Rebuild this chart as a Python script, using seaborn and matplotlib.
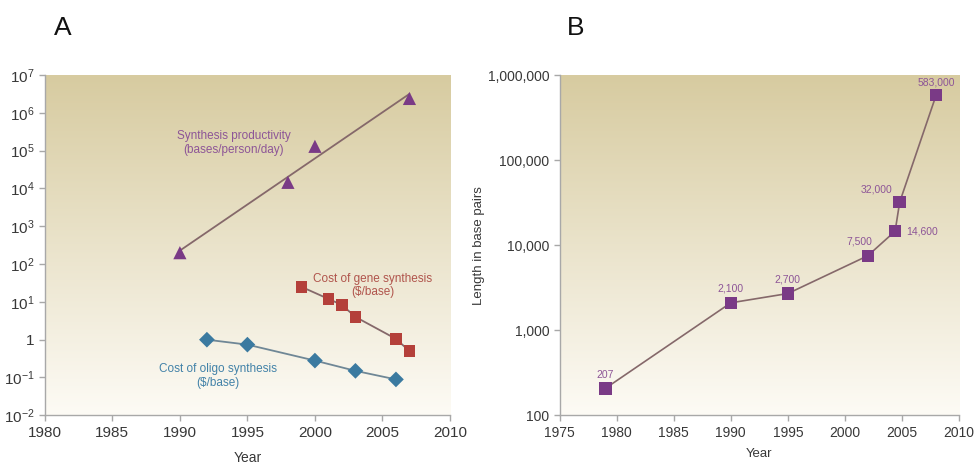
import numpy as np
import pandas as pd
import matplotlib
matplotlib.use("Agg")
import matplotlib.pyplot as plt
from matplotlib.ticker import FixedLocator, FixedFormatter, NullLocator
import seaborn as sns

# ---- Panel A data -------------------------------------------------------
prod_years = [1990, 1998, 2000, 2007]
prod_values = [200, 14500, 130000, 2400000]          # bases/person/day

gene_years = [1999, 2001, 2002, 2003, 2006, 2007]
gene_costs = [25, 12, 8.3, 4.0, 1.05, 0.5]            # $/base

oligo_years = [1992, 1995, 2000, 2003, 2006]
oligo_costs = [1.0, 0.74, 0.28, 0.15, 0.089]          # $/base

a_xticks = [1980, 1985, 1990, 1995, 2000, 2005, 2010]
a_yticks = [1e-2, 1e-1, 1, 1e1, 1e2, 1e3, 1e4, 1e5, 1e6, 1e7]
a_ylabels = ["$10^{-2}$", "$10^{-1}$", "1", "$10^{1}$", "$10^{2}$", "$10^{3}$",
             "$10^{4}$", "$10^{5}$", "$10^{6}$", "$10^{7}$"]

# ---- Panel B data -------------------------------------------------------
syn_years = [1979, 1990, 1995, 2002, 2004.4, 2004.8, 2008]
syn_lengths = [207, 2100, 2700, 7500, 14600, 32000, 583000]
syn_labels = ["207", "2,100", "2,700", "7,500", "14,600", "32,000", "583,000"]

b_xticks = [1975, 1980, 1985, 1990, 1995, 2000, 2005, 2010]
b_yticks = [100, 1000, 10000, 100000, 1000000]
b_ylabels = ["100", "1,000", "10,000", "100,000", "1,000,000"]

# ---- Style --------------------------------------------------------------
sns.set_style("ticks")
plt.rcParams["font.family"] = ["Liberation Sans", "DejaVu Sans"]
plt.rcParams["mathtext.fontset"] = "custom"
plt.rcParams["mathtext.rm"] = "Liberation Sans"
plt.rcParams["mathtext.it"] = "Liberation Sans"

AXIS_GRAY = "#a8a8a8"
TEXT_GRAY = "#383838"
PURPLE = "#7a3a86"
PURPLE_TXT = "#8d5597"
RED = "#b4403a"
RED_TXT = "#b0544c"
BLUE = "#3b7aa0"
BLUE_TXT = "#4282a8"
LINE_BROWN = "#85686a"
LINE_BLUEGRAY = "#6f8796"

fig = plt.figure(figsize=(9.75, 4.63), dpi=100)
ax_a = fig.add_axes([0.046, 0.103, 0.4155, 0.735])
ax_b = fig.add_axes([0.574, 0.103, 0.4096, 0.735])


def shade(ax):
    top = np.array([215, 203, 160]) / 255.0
    bottom = np.array([253, 251, 245]) / 255.0
    t = np.linspace(0, 1, 256)[:, None]
    grad = (top * (1 - t) + bottom * t)[:, None, :]
    ax.imshow(grad, extent=[0, 1, 0, 1], transform=ax.transAxes,
              aspect="auto", zorder=0, interpolation="bilinear")


def frame(ax, fs):
    sns.despine(ax=ax)
    for side in ("left", "bottom"):
        ax.spines[side].set_color(AXIS_GRAY)
        ax.spines[side].set_linewidth(1.0)
    ax.tick_params(axis="both", colors=AXIS_GRAY, length=4, width=1,
                   labelcolor=TEXT_GRAY, labelsize=fs, direction="out")
    ax.set_facecolor("none")


# ---- Panel A ------------------------------------------------------------
prod_df = pd.DataFrame({"Year": prod_years, "Value": prod_values})
gene_df = pd.DataFrame({"Year": gene_years, "Value": gene_costs})
oligo_df = pd.DataFrame({"Year": oligo_years, "Value": oligo_costs})

# exponential trend through productivity points
coef = np.polyfit(prod_df["Year"], np.log10(prod_df["Value"]), 1)
trend_x = np.array([prod_years[0], prod_years[-1]])
trend_df = pd.DataFrame({"Year": trend_x, "Value": 10 ** np.polyval(coef, trend_x)})

ax_a.set_yscale("log")
shade(ax_a)
sns.lineplot(data=trend_df, x="Year", y="Value", ax=ax_a, color=LINE_BROWN,
             lw=1.3, zorder=2)
sns.lineplot(data=gene_df, x="Year", y="Value", ax=ax_a, color=LINE_BROWN,
             lw=1.3, zorder=2)
sns.lineplot(data=oligo_df, x="Year", y="Value", ax=ax_a, color=LINE_BLUEGRAY,
             lw=1.3, zorder=2)
sns.scatterplot(data=prod_df, x="Year", y="Value", ax=ax_a, marker="^",
                s=90, color=PURPLE, edgecolor="none", zorder=3)
sns.scatterplot(data=gene_df, x="Year", y="Value", ax=ax_a, marker="s",
                s=72, color=RED, edgecolor="none", zorder=3)
sns.scatterplot(data=oligo_df, x="Year", y="Value", ax=ax_a, marker="D",
                s=64, color=BLUE, edgecolor="none", zorder=3)

ax_a.set_xlim(1980, 2010)
ax_a.set_ylim(1e-2, 1e7)
ax_a.xaxis.set_major_locator(FixedLocator(a_xticks))
ax_a.yaxis.set_major_locator(FixedLocator(a_yticks))
ax_a.yaxis.set_major_formatter(FixedFormatter(a_ylabels))
ax_a.yaxis.set_minor_locator(NullLocator())
frame(ax_a, 11)
ax_a.set_xlabel("Year", fontsize=10, color=TEXT_GRAY, labelpad=8)
ax_a.set_ylabel("")

ax_a.text(1994.0, 1.6e5, "Synthesis productivity\n(bases/person/day)",
          ha="center", va="center", fontsize=8.5, color=PURPLE_TXT, linespacing=1.2)
ax_a.text(2004.3, 27, "Cost of gene synthesis\n(\\$/base)",
          ha="center", va="center", fontsize=8.5, color=RED_TXT, linespacing=1.2)
ax_a.text(1992.8, 0.11, "Cost of oligo synthesis\n(\\$/base)",
          ha="center", va="center", fontsize=8.5, color=BLUE_TXT, linespacing=1.2)

# ---- Panel B ------------------------------------------------------------
syn_df = pd.DataFrame({"Year": syn_years, "Length": syn_lengths})
ax_b.set_yscale("log")
shade(ax_b)
sns.lineplot(data=syn_df, x="Year", y="Length", ax=ax_b, color=LINE_BROWN,
             lw=1.2, zorder=2, sort=False)
sns.scatterplot(data=syn_df, x="Year", y="Length", ax=ax_b, marker="s",
                s=80, color=PURPLE, edgecolor="none", zorder=3)

offsets = [(0, 10, "center"), (0, 10, "center"), (0, 10, "center"),
           (-6, 10, "center"), (8, 0, "left"), (-5, 9, "right"), (0, 9, "center")]
for x, y, lab, (dx, dy, ha) in zip(syn_years, syn_lengths, syn_labels, offsets):
    ax_b.annotate(lab, (x, y), xytext=(dx, dy), textcoords="offset points",
                  ha=ha, va="center", fontsize=7.5, color=PURPLE_TXT)

ax_b.set_xlim(1975, 2010)
ax_b.set_ylim(100, 1e6)
ax_b.xaxis.set_major_locator(FixedLocator(b_xticks))
ax_b.yaxis.set_major_locator(FixedLocator(b_yticks))
ax_b.yaxis.set_major_formatter(FixedFormatter(b_ylabels))
ax_b.yaxis.set_minor_locator(NullLocator())
frame(ax_b, 10)
ax_b.set_xlabel("Year", fontsize=9.5, color=TEXT_GRAY, labelpad=6)
ax_b.set_ylabel("Length in base pairs", fontsize=9.5, color=TEXT_GRAY)
ax_b.yaxis.set_label_coords(-0.188, 0.5)

# ---- Panel letters ------------------------------------------------------
fig.text(0.055, 0.94, "A", fontsize=19, color="#111111", ha="left", va="center")
fig.text(0.581, 0.94, "B", fontsize=19, color="#111111", ha="left", va="center")

fig.savefig("out.png", dpi=100, facecolor="white")
